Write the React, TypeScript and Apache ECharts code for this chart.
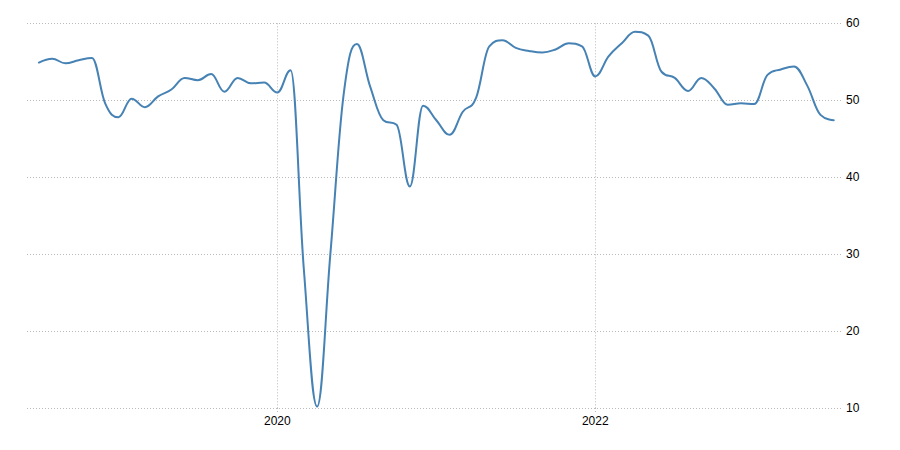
import React, { useEffect, useRef } from "react";
import * as echarts from "echarts";

// Monthly values, first point = July 2018 (month index 0), last = July 2023
const startYear = 2018;
const startMonthIndex = 6; // July (0-based)
const values: number[] = [
  54.9, 55.4, 54.8, 55.2, 55.5, 49.6, 47.8, 50.2, 49.1, 50.5,
  51.4, 52.9, 52.6, 53.4, 51.1, 52.9, 52.2, 52.3, 51.0, 53.9,
  28.0, 10.2, 30.0, 50.7, 57.3, 51.8, 47.4, 46.8, 38.8, 49.3,
  47.4, 45.5, 48.5, 50.3, 57.0, 57.8, 56.8, 56.4, 56.2, 56.6,
  57.4, 57.0, 53.1, 55.7, 57.4, 58.9, 58.4, 53.7, 52.9, 51.2,
  52.9, 51.5, 49.4, 49.6, 49.5, 53.3, 54.0, 54.4, 51.9, 48.1,
  47.4,
];
const xTickYears: number[] = [2020, 2022];
const yTicks: number[] = [10, 20, 30, 40, 50, 60];

const yearToIndex = (y: number) => (y - startYear) * 12 - startMonthIndex;
const indexToYear = (i: number) => startYear + Math.floor((i + startMonthIndex) / 12);

// Spline path through pixel points (Highcharts-style smoothing)
function splinePath(pts: number[][]): string {
  const smoothing = 1.5;
  const denom = smoothing + 1;
  let d = `M${pts[0][0]},${pts[0][1]}`;
  let prevRight: number[] = [pts[0][0], pts[0][1]];
  for (let i = 1; i < pts.length; i++) {
    const [x, y] = pts[i];
    const [lx, ly] = pts[i - 1];
    let left: number[] = [x, y];
    let right: number[] = [x, y];
    if (i < pts.length - 1) {
      const [nx, ny] = pts[i + 1];
      const lcx = (smoothing * x + lx) / denom;
      let lcy = (smoothing * y + ly) / denom;
      const rcx = (smoothing * x + nx) / denom;
      let rcy = (smoothing * y + ny) / denom;
      if (rcx !== lcx) {
        const corr = ((rcy - lcy) * (rcx - x)) / (rcx - lcx) + y - rcy;
        lcy += corr;
        rcy += corr;
      }
      if (lcy > ly && lcy > y) {
        lcy = Math.max(ly, y);
        rcy = 2 * y - lcy;
      } else if (lcy < ly && lcy < y) {
        lcy = Math.min(ly, y);
        rcy = 2 * y - lcy;
      }
      if (rcy > ny && rcy > y) {
        rcy = Math.max(ny, y);
        lcy = 2 * y - rcy;
      } else if (rcy < ny && rcy < y) {
        rcy = Math.min(ny, y);
        lcy = 2 * y - rcy;
      }
      left = [lcx, lcy];
      right = [rcx, rcy];
    }
    d += `C${prevRight[0]},${prevRight[1]},${left[0]},${left[1]},${x},${y}`;
    prevRight = right;
  }
  return d;
}

export default function App() {
  const ref = useRef<HTMLDivElement>(null);
  useEffect(() => {
    document.body.style.margin = "0";
    if (!ref.current) return;
    const chart = echarts.init(ref.current, undefined, { renderer: "svg" });
    const tickIdx = xTickYears.map(yearToIndex);
    const gridLine = { color: "#bbbbbb", type: [1, 2], width: 1 };
    chart.setOption({
      animation: false,
      backgroundColor: "#ffffff",
      grid: { left: 27, right: 57, top: 23.3, bottom: 42 },
      xAxis: {
        type: "value",
        min: -0.9,
        max: 60.7,
        axisLine: { show: false },
        axisTick: {
          show: true,
          length: 5,
          customValues: tickIdx,
          lineStyle: gridLine,
        },
        axisLabel: {
          customValues: tickIdx,
          formatter: (v: number) => String(indexToYear(Math.round(v))),
          color: "#000000",
          fontSize: 12,
          fontFamily: "Arial, 'Liberation Sans', sans-serif",
          margin: 7,
        },
        splitLine: { show: true, lineStyle: gridLine },
      },
      yAxis: {
        type: "value",
        position: "right",
        min: yTicks[0],
        max: yTicks[yTicks.length - 1],
        interval: 10,
        axisLine: { show: false },
        axisTick: { show: false },
        axisLabel: {
          color: "#000000",
          fontSize: 12,
          fontFamily: "Arial, 'Liberation Sans', sans-serif",
          margin: 3,
        },
        splitLine: { show: true, lineStyle: gridLine },
      },
      series: [
        {
          type: "custom",
          data: values.map((v, i) => [i, v]),
          encode: { x: 0, y: 1 },
          renderItem: (params: any, api: any) => {
            if (params.dataIndex !== 0) return null;
            const pts = values.map((v, i) => api.coord([i, v]));
            return {
              type: "path",
              shape: { pathData: splinePath(pts) },
              style: {
                stroke: "#4682b4",
                lineWidth: 2,
                fill: "none",
                lineJoin: "round",
                lineCap: "round",
              },
            };
          },
        },
      ],
    });
    return () => chart.dispose();
  }, []);
  return <div ref={ref} style={{ width: 900, height: 450 }} />;
}
